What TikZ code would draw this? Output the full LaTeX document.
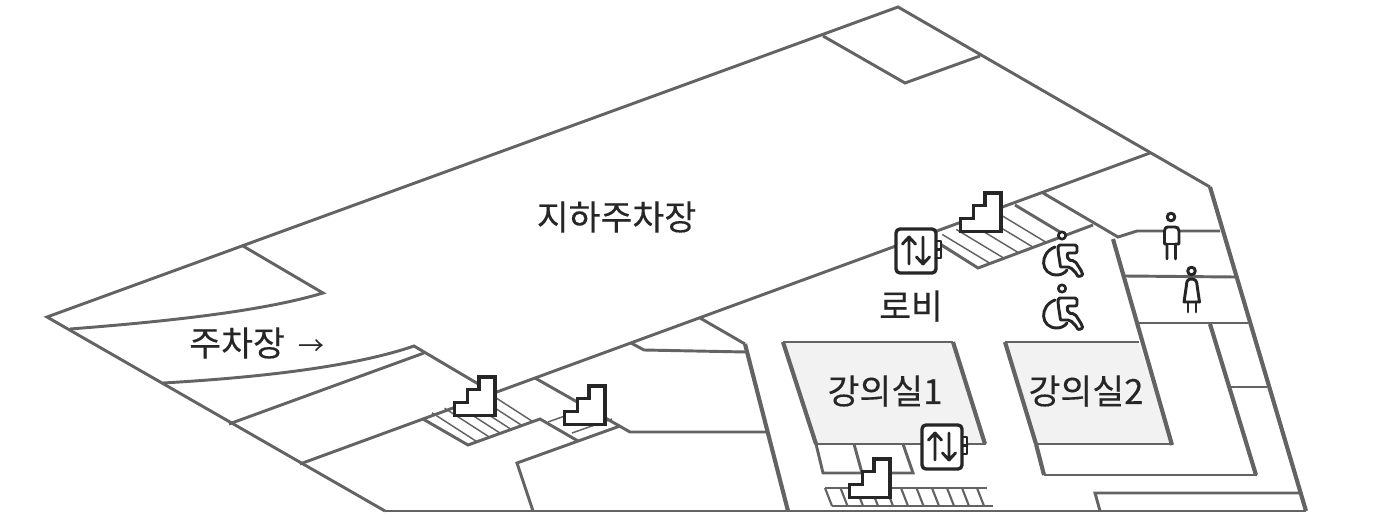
\documentclass[tikz,border=0pt]{standalone}
\usepackage{fontspec}
\setmainfont[FakeBold=0.25]{Noto Sans CJK KR}
\newfontfamily\arrowfont{Noto Sans CJK KR}
\tikzset{
  x=0.75pt,y=-0.75pt,
  wall/.style={draw=wallgray,line width=2.2pt,line join=miter},
  thick wall/.style={draw=wallgray,line width=3.1pt,line join=miter},
  hatch/.style={draw=wallgray,line width=1.1pt},
  icon/.style={draw=icondark,line width=2.6pt,fill=white,line join=miter},
  iconline/.style={draw=icondark,line width=2.2pt,line cap=round,line join=round},
  label/.style={text=icondark,font=\fontsize{26}{26}\selectfont,inner sep=0pt},
}
\definecolor{wallgray}{HTML}{636363}
\definecolor{icondark}{HTML}{262626}
\definecolor{roomfill}{HTML}{F2F2F2}
\newcommand{\stairicon}[1]{%
  \begin{scope}[shift={(#1)}]
    \draw[icon] (0,0) -- (0,-13) -- (13,-13) -- (13,-26) -- (24.5,-26) -- (24.5,-38.5) -- (40.5,-38.5) -- (40.5,0) -- cycle;
  \end{scope}}
\newcommand{\lifticon}[1]{%
  \begin{scope}[shift={(#1)}]
    \draw[iconline,fill=white] (40,12) rectangle (45,29);
    \draw[iconline] (40,20.5) -- (45,20.5);
    \draw[iconline,line width=2.5pt,fill=white] (4,0) -- (36,0) arc (-90:0:4) -- (40,40) arc (0:90:4) -- (4,44) arc (90:180:4) -- (0,4) arc (180:270:4) -- cycle;
    \draw[iconline] (13,35) -- (13,8) (6.5,15) -- (13,8) -- (19.5,15);
    \draw[iconline] (27,8) -- (27,35) (20.5,28) -- (27,35) -- (33.5,28);
  \end{scope}}
\newcommand{\wheelicon}[1]{%
  \begin{scope}[shift={(#1)}]
    \draw[iconline,line width=2pt,fill=white] (20,3.5) circle (3.7);
    \draw[iconline,rounded corners=1.5pt] (16,17) .. controls (16,14) and (18,13) .. (20,13) -- (31,13) .. controls (34,13) and (35,15) .. (35,17) -- (35,21) -- (25,21) -- (26,28) -- (33,29) -- (40,40) .. controls (41,44) and (36,45) .. (35,42) -- (28,35) -- (21,35) .. controls (18,35) and (18,30) .. (17,26) -- cycle;
    \draw[iconline] (13,15) .. controls (-3,21) and (-2,43) .. (15,43) .. controls (19,43) and (23,41) .. (25,38);
  \end{scope}}
\begin{document}
\begin{tikzpicture}
\useasboundingbox (0,0) rectangle (1377,517);
% rooms filled
\fill[roomfill] (783,342) -- (953,342) -- (985,444) -- (816,444) -- cycle;
\fill[roomfill] (1005,342) -- (1139,342) -- (1171,444) -- (1036,444) -- cycle;
% outer walls
\draw[wall] (385,511) -- (47,317) -- (898,7) -- (1210,187);
\draw[thick wall] (1210,187) -- (1306,511);
\draw[wall] (1306,511) -- (385,511);
% top room
\draw[wall] (823,36) -- (905,83) -- (980,56);
% parking ramps
\draw[wall] (243,246) -- (323,293) .. controls (260,312) and (160,322) .. (70,329);
\draw[wall] (163,383) .. controls (250,378) and (350,368) .. (414,346) -- (480,385);
\draw[wall] (229,424) -- (424,353);
% main corridor wall
\draw[wall] (300,464) -- (1150,153);
% lower stairs
\draw[wall] (423,419) -- (468,445) -- (540,419) -- (578,441);
\foreach \t in {0.125,0.3,0.45,0.6,0.75,0.9}
  \draw[hatch] ({423+72*\t},{419-26*\t-3}) -- ({468+72*\t},{445-26*\t});
\draw[hatch] (548,422) -- (590,407) (572,433) -- (612,419);
\draw[wall] (533,511) -- (517,463) -- (620,426);
\draw[wall] (535,378) -- (630,432) -- (767,432);
% right of lower stairs
\draw[wall] (631,343) -- (644,350) -- (746,352);
\draw[wall] (700,318) -- (745,344);
\draw[thick wall] (745,344) -- (788,511);
% classroom 1
\draw[wall] (783,342) -- (953,342);
\draw[thick wall] (816,444) -- (783,342);
\draw[thick wall] (953,342) -- (985,444);
\draw[wall] (816,444) -- (986,444);
\draw[wall] (816,444) -- (823,473) -- (913,473) -- (903,444);
\draw[wall] (854,444) -- (862,473);
% classroom 2
\draw[thick wall] (1036,444) -- (1005,342);
\draw[wall] (1005,342) -- (1139,342);
\draw[thick wall] (1113,239) -- (1172,445);
\draw[wall] (1036,444) -- (1172,444);
\draw[thick wall] (1036,444) -- (1044,475);
\draw[wall] (1044,475) -- (1257,475);
\draw[thick wall] (1256,475) -- (1210,324);
% upper stairs
\draw[wall] (937,242) -- (978,268) -- (1093,225);
\draw[wall] (1043,193) -- (1118,237) -- (1137,231) -- (1220,231);
\foreach \x in {0,0.15,0.32,0.5,0.68,0.84}
  \draw[hatch] ({978+82*\x},{268-30*\x}) -- ({978+82*\x-48},{268-30*\x-29});
\draw[wall] (1015,205) -- (1060,232);
% toilets
\draw[wall] (1125,276) -- (1235,277);
\draw[wall] (1138,323) -- (1248,323);
\draw[wall] (1231,387) -- (1267,387);
% bottom right
\draw[wall] (1100,511) -- (1095,493) -- (1299,493);
% lower stair strip
\draw[wall,line width=1.7pt] (825,488) -- (987,488);
\draw[wall,line width=1.9pt] (832,506) -- (993,506);
\foreach \x in {825,840.5,856,871,886,901,916.5,932,947,962,977}
  \draw[wall,line width=1.6pt] (\x,488) -- ({\x+7},506);
% icons
\stairicon{454.5,415.5}
\stairicon{564.5,424.5}
\stairicon{960.5,231.5}
\stairicon{849.5,497.5}
\lifticon{896,229}
\lifticon{922,425}
\wheelicon{1042,232}
\wheelicon{1042,285}
% man
\draw[iconline,fill=white] (1171,217) circle (3.8);
\draw[iconline,fill=white] (1167,259) -- (1167,244) -- (1164.5,244) -- (1164.5,231) .. controls (1164.5,228) and (1166,227) .. (1168,227) -- (1175,227) .. controls (1177,227) and (1179,228) .. (1179,231) -- (1179,244) -- (1175.5,244) -- (1175.5,259);
\draw[iconline] (1167,244) -- (1175.5,244);
% woman
\draw[iconline,fill=white] (1191.5,271) circle (3.8);
\draw[iconline,fill=white] (1184,302) -- (1199.5,302) -- (1197,285) .. controls (1197,281) and (1195,279) .. (1191.5,279) .. controls (1188,279) and (1186.5,281) .. (1186.5,285) -- cycle;
\draw[iconline] (1188,302) -- (1188,312) (1196,302) -- (1196,312);
% labels
\node[label] (a) at (616.5,217) {지하주차장};
\node[label,anchor=west] (b) at (189,343) {주차장\hspace{0.4em}{\arrowfont\fontsize{19.5}{20}\selectfont →}};
\node[label] (c) at (911,306) {로비};
\node[label] (d) at (885,391) {강의실1};
\node[label] (e) at (1086,391) {강의실2};
\end{tikzpicture}
\end{document}
